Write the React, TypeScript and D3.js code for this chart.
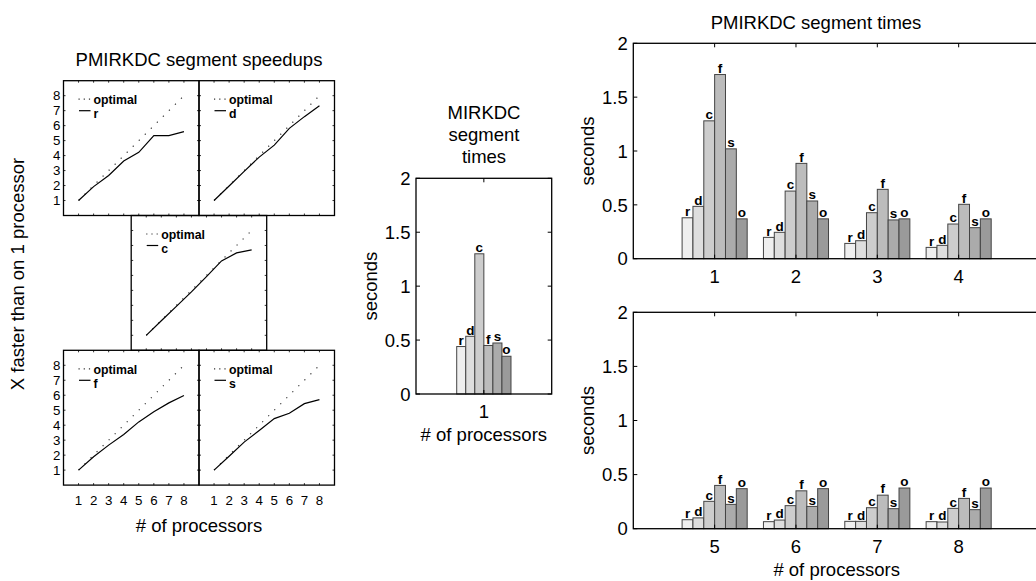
import React from "react";
import * as d3 from "d3";

// ---------- data ----------
const procs = [1, 2, 3, 4, 5, 6, 7, 8];
const speedupR = [1, 1.93, 2.67, 3.64, 4.22, 5.33, 5.33, 5.6];
const speedupD = [1, 1.97, 2.95, 3.9, 4.7, 5.82, 6.6, 7.33];
const speedupC = [1, 1.97, 2.93, 3.9, 4.92, 5.97, 6.5, 6.7];
const speedupF = [1, 1.89, 2.67, 3.38, 4.22, 4.89, 5.49, 5.98];
const speedupS = [1, 1.93, 2.87, 3.64, 4.44, 4.8, 5.44, 5.71];
const optimal = [1, 2, 3, 4, 5, 6, 7, 8];
const panelTicks = [1, 2, 3, 4, 5, 6, 7, 8];

const segments = ["r", "d", "c", "f", "s", "o"];
const segColors = ["#efefef", "#dedede", "#cdcdcd", "#bcbcbc", "#ababab", "#9a9a9a"];

// MIRKDC (sequential) segment times, one processor
const seqTimes = [0.44, 0.535, 1.3, 0.45, 0.473, 0.35];

// PMIRKDC segment times per processor count (1..8)
const timeR = [0.38, 0.198, 0.142, 0.105, 0.083, 0.065, 0.068, 0.065];
const timeD = [0.486, 0.245, 0.167, 0.124, 0.1, 0.08, 0.068, 0.062];
const timeC = [1.28, 0.628, 0.427, 0.322, 0.253, 0.213, 0.194, 0.188];
const timeF = [1.71, 0.885, 0.644, 0.505, 0.4, 0.35, 0.31, 0.28];
const timeS = [1.02, 0.536, 0.36, 0.288, 0.225, 0.206, 0.185, 0.176];
const timeO = [0.37, 0.37, 0.37, 0.37, 0.37, 0.37, 0.376, 0.376];
const secondTicks = [0, 0.5, 1, 1.5, 2];

const FONT = '"Liberation Sans", Arial, Helvetica, sans-serif';

// ---------- speedup panel ----------
function SpeedPanel({ px, py, w, h, name, data, showY, showX }: any) {
  const x = d3.scaleLinear().domain([0, 9]).range([px, px + w]);
  const y = d3.scaleLinear().domain([0, 9]).range([py + h, py]);
  const line = d3
    .line<number>()
    .x((_, i) => x(procs[i]))
    .y((d) => y(d));
  const tl = 2;
  return (
    <g>
      {panelTicks.map((t) => (
        <g key={"t" + t} stroke="#000" strokeWidth={0.8}>
          <line x1={x(t)} x2={x(t)} y1={py + h} y2={py + h - tl} />
          <line x1={x(t)} x2={x(t)} y1={py} y2={py + tl} />
          <line x1={px} x2={px + tl} y1={y(t)} y2={y(t)} />
          <line x1={px + w} x2={px + w - tl} y1={y(t)} y2={y(t)} />
        </g>
      ))}
      <path d={line(optimal) || ""} fill="none" stroke="#333" strokeWidth={1.2} strokeDasharray="1.2,7.3" />
      <path d={line(data) || ""} fill="none" stroke="#000" strokeWidth={1.2} />
      {/* legend */}
      <line x1={px + 15} x2={px + 27} y1={py + 18.5} y2={py + 18.5} stroke="#333" strokeWidth={1.2} strokeDasharray="1.2,4" />
      <line x1={px + 15.5} x2={px + 27} y1={py + 30} y2={py + 30} stroke="#000" strokeWidth={1.2} />
      <text x={px + 30} y={py + 23.3} fontSize={12.3} fontWeight="bold" fontFamily={FONT}>optimal</text>
      <text x={px + 30} y={py + 37.2} fontSize={12.3} fontWeight="bold" fontFamily={FONT}>{name}</text>
      <rect x={px} y={py} width={w} height={h} fill="none" stroke="#000" strokeWidth={1.3} />
      {showY &&
        panelTicks.map((t) => (
          <text key={"y" + t} x={px - 3} y={y(t)} dy="0.36em" textAnchor="end" fontSize={13.3} fontFamily={FONT}>
            {t}
          </text>
        ))}
      {showX &&
        panelTicks.map((t) => (
          <text key={"x" + t} x={x(t)} y={py + h + 20} textAnchor="middle" fontSize={13.3} fontFamily={FONT}>
            {t}
          </text>
        ))}
    </g>
  );
}

// ---------- bar panel ----------
function BarPanel({ left, right, top, bottom, xMax, groups, labels, values, xlabel }: any) {
  const x = d3.scaleLinear().domain([0, xMax]).range([left, right]);
  const y = d3.scaleLinear().domain([0, 2]).range([bottom, top]);
  const groupW = (x(1) - x(0)) * 0.8;
  const band = d3
    .scaleBand<string>()
    .domain(segments)
    .range([-groupW / 2, groupW / 2])
    .padding(0);
  const tl = 4;
  return (
    <g>
      {groups.map((g: number, gi: number) => (
        <g key={"g" + gi}>
          {segments.map((s, si) => {
            const v = values(gi, si);
            const bx = x(g) + (band(s) as number);
            return (
              <g key={s}>
                <rect x={bx} y={y(v)} width={band.bandwidth()} height={y(0) - y(v)} fill={segColors[si]} stroke="#444" strokeWidth={1} />
                <text x={bx + band.bandwidth() / 2} y={y(v) - 1.8} textAnchor="middle" fontSize={13.5} fontWeight="bold" fontFamily={FONT}>
                  {s}
                </text>
              </g>
            );
          })}
        </g>
      ))}
      {groups.map((g: number, gi: number) => (
        <g key={"xt" + gi}>
          <line x1={x(g)} x2={x(g)} y1={bottom} y2={bottom - tl} stroke="#000" />
          <line x1={x(g)} x2={x(g)} y1={top} y2={top + tl} stroke="#000" />
          <text x={x(g)} y={bottom + 24.3} textAnchor="middle" fontSize={18.5} fontFamily={FONT}>
            {labels[gi]}
          </text>
        </g>
      ))}
      {secondTicks.map((t) => (
        <g key={"yt" + t}>
          <line x1={left} x2={left + tl} y1={y(t)} y2={y(t)} stroke="#000" />
          <line x1={right} x2={right - tl} y1={y(t)} y2={y(t)} stroke="#000" />
          <text x={left - 5.5} y={y(t)} dy="0.36em" textAnchor="end" fontSize={18.5} fontFamily={FONT}>
            {String(t)}
          </text>
        </g>
      ))}
      <rect x={left} y={top} width={right - left} height={bottom - top} fill="none" stroke="#000" strokeWidth={1.3} />
      <text transform={`translate(${left - 39.5},${(top + bottom) / 2}) rotate(-90)`} textAnchor="middle" fontSize={18.5} fontFamily={FONT}>
        seconds
      </text>
      {xlabel && (
        <text x={(left + right) / 2} y={bottom + 47} textAnchor="middle" fontSize={18.5} fontFamily={FONT}>
          # of processors
        </text>
      )}
    </g>
  );
}

export default function App() {
  const W = 135.5;
  const H = 134.8;
  const parTimes = [timeR, timeD, timeC, timeF, timeS, timeO];
  return (
    <svg width={1036} height={581} style={{ position: "absolute", left: 0, top: 0, background: "#fff" }} fontFamily={FONT}>
      <rect x={0} y={0} width={1036} height={581} fill="#fff" />
      {/* left: speedups */}
      <text x={199} y={66} textAnchor="middle" fontSize={18.5}>PMIRKDC segment speedups</text>
      <SpeedPanel px={63.5} py={80.7} w={W} h={H} name="r" data={speedupR} showY />
      <SpeedPanel px={63.5 + W} py={80.7} w={W} h={H} name="d" data={speedupD} />
      <SpeedPanel px={131.2} py={80.7 + H} w={W} h={H} name="c" data={speedupC} />
      <SpeedPanel px={63.5} py={80.7 + 2 * H} w={W} h={H} name="f" data={speedupF} showY showX />
      <SpeedPanel px={63.5 + W} py={80.7 + 2 * H} w={W} h={H} name="s" data={speedupS} showX />
      <text x={199} y={531.5} textAnchor="middle" fontSize={18.5}># of processors</text>
      <text transform="translate(23.5,274) rotate(-90)" textAnchor="middle" fontSize={18.5}>
        X faster than on 1 processor
      </text>

      {/* middle: MIRKDC */}
      <text x={484} y={118.7} textAnchor="middle" fontSize={18.5}>MIRKDC</text>
      <text x={484} y={140.7} textAnchor="middle" fontSize={18.5}>segment</text>
      <text x={484} y={162.7} textAnchor="middle" fontSize={18.5}>times</text>
      <BarPanel left={416} right={551.7} top={178.3} bottom={394} xMax={2} groups={[1]} labels={["1"]} values={(gi: number, si: number) => seqTimes[si]} xlabel />

      {/* right: PMIRKDC */}
      <text x={816} y={29} textAnchor="middle" fontSize={18.5}>PMIRKDC segment times</text>
      <BarPanel left={633.3} right={1040} top={43.3} bottom={258.7} xMax={5} groups={[1, 2, 3, 4]} labels={["1", "2", "3", "4"]} values={(gi: number, si: number) => parTimes[si][gi]} />
      <BarPanel left={633.3} right={1040} top={312.3} bottom={528.7} xMax={5} groups={[1, 2, 3, 4]} labels={["5", "6", "7", "8"]} values={(gi: number, si: number) => parTimes[si][gi + 4]} xlabel />
    </svg>
  );
}
